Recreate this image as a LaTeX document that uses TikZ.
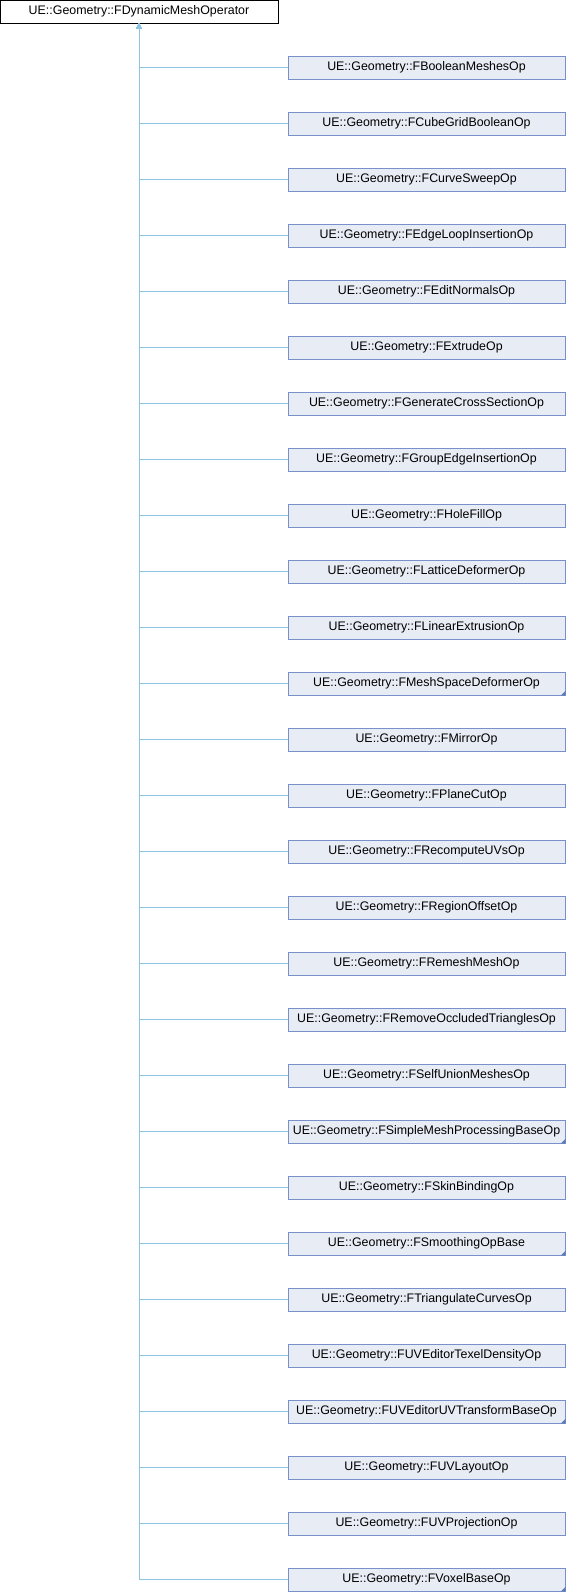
\documentclass[tikz,border=0pt]{standalone}
\usepackage{fontspec}
\setmainfont{Liberation Sans}
\usetikzlibrary{arrows.meta}
\definecolor{boxfill}{RGB}{232,236,245}
\definecolor{boxline}{RGB}{120,145,205}
\definecolor{edgeblue}{RGB}{140,196,230}
\definecolor{marker}{RGB}{90,120,190}
\tikzset{every picture/.style={line width=0.75pt}}
\tikzset{
  basebox/.style={draw=black, fill=white, minimum width=278pt, minimum height=23pt, inner sep=0pt, font=\fontsize{12.4}{14}\selectfont},
  childbox/.style={draw=boxline, fill=boxfill, minimum width=277pt, minimum height=23pt, inner sep=0pt, font=\fontsize{12.4}{14}\selectfont},
  edge/.style={draw=edgeblue, line width=1pt}
}

\begin{document}
\begin{tikzpicture}[x=1pt,y=1pt,yscale=-1,xscale=1]
\useasboundingbox (0,0) rectangle (566,1592);

% Base class
\node[basebox] (base) at (139,11.5) {UE::Geometry::FDynamicMeshOperator};

% Derived classes
\foreach \name [count=\i] in {FBooleanMeshesOp, FCubeGridBooleanOp, FCurveSweepOp,
  FEdgeLoopInsertionOp, FEditNormalsOp, FExtrudeOp, FGenerateCrossSectionOp,
  FGroupEdgeInsertionOp, FHoleFillOp, FLatticeDeformerOp, FLinearExtrusionOp,
  FMeshSpaceDeformerOp, FMirrorOp, FPlaneCutOp, FRecomputeUVsOp, FRegionOffsetOp,
  FRemeshMeshOp, FRemoveOccludedTrianglesOp, FSelfUnionMeshesOp,
  FSimpleMeshProcessingBaseOp, FSkinBindingOp, FSmoothingOpBase,
  FTriangulateCurvesOp, FUVEditorTexelDensityOp, FUVEditorUVTransformBaseOp,
  FUVLayoutOp, FUVProjectionOp, FVoxelBaseOp}
{
  \node[childbox] (c\i) at (426.5,{67.5+56*(\i-1)}) {UE::Geometry::\name};
  \draw[edge, {Triangle[open, length=5pt, width=5pt]}-] (base.south) |- (c\i.west);
}

% Markers for classes with further children
\foreach \i in {12,20,22,25,28}
  \fill[marker] (c\i.south east) -- ++(-4.5,0) -- ++(4.5,-4.5) -- cycle;

\end{tikzpicture}
\end{document}
